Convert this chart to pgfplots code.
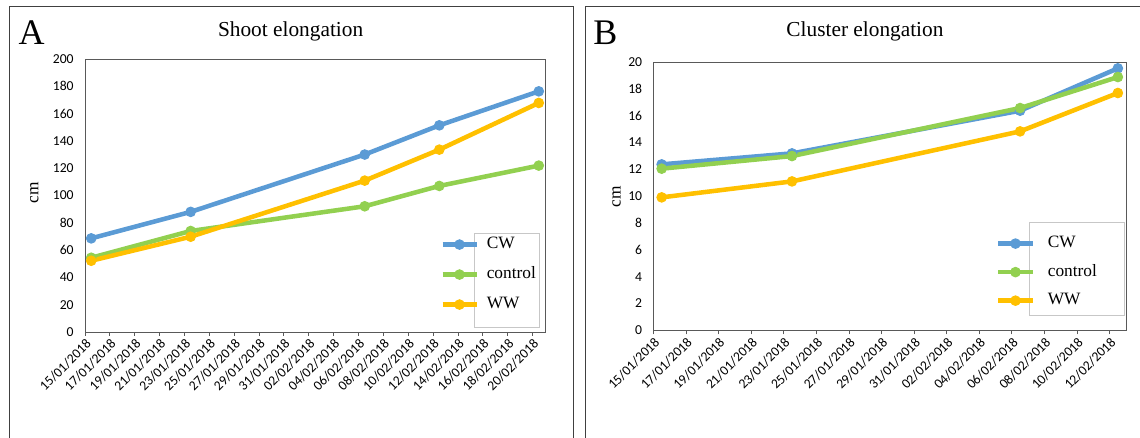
\documentclass[border=0pt]{standalone}
\usepackage{fontspec}
\setmainfont{Liberation Serif}
\newfontfamily\calib{Carlito}
\usepackage{pgfplots}
\pgfplotsset{compat=1.18}
\definecolor{cw}{HTML}{5B9BD5}
\definecolor{ctl}{HTML}{92D050}
\definecolor{ww}{HTML}{FFC000}
\definecolor{axgray}{HTML}{595959}
\definecolor{framec}{HTML}{404040}
\pgfplotsset{
  mystyle/.style={
    scale only axis, anchor=south west, clip=false,
    axis line style={axgray, line width=0.7pt},
    xtick pos=bottom, tick align=outside, major tick length=3pt,
    xtick style={axgray, line width=0.7pt},
    ytick style={draw=none},
    ticklabel style={font=\calib\fontsize{10.25}{12}\selectfont, text=black},
    /pgf/number format/assume math mode=true,
    x tick label style={rotate=45, anchor=north east, inner sep=1pt},
    y tick label style={xshift=-2pt},
    ymin=0,
    title style={font=\fontsize{16}{19}\selectfont, anchor=center},
    ylabel={cm},
    ylabel style={font=\fontsize{13}{15}\selectfont, anchor=center},
    every axis plot/.append style={line width=3.4pt, mark=*, mark size=3.6pt, mark options={solid, line width=0.75pt}},
    legend image code/.code={
      \draw[mark repeat=2,mark phase=2,##1] plot coordinates {(0pt,0pt) (12.75pt,0pt) (25.5pt,0pt)};
    },
    legend style={draw=none, fill=none, inner sep=0pt, anchor=north west,
      nodes={inner sep=0pt, text height=9pt, text depth=3pt, font=\fontsize{13}{15}\selectfont},
      legend cell align=left},
  }
}
\begin{document}
\begin{tikzpicture}[x=0.75pt,y=0.75pt]
\useasboundingbox (0,0) rectangle (1140,438);
\draw[framec, line width=0.75pt] (9,-2) -- (9,431) -- (573.3,431) -- (573.3,-2);
\draw[framec, line width=0.75pt] (585,-2) -- (585,431) -- (1142,431);
\node[font=\fontsize{27}{30}\selectfont, anchor=base] at (31.5,393) {A};
\node[font=\fontsize{27}{30}\selectfont, anchor=base] at (605.5,393) {B};

\begin{axis}[mystyle,
  at={(63.75pt,79.5pt)}, width=345pt, height=204.75pt,
  xmin=0, xmax=37, ymax=200, ytick={0,20,...,200},
  xtick={0,2,...,36},
  xticklabels={15/01/2018,17/01/2018,19/01/2018,21/01/2018,23/01/2018,25/01/2018,27/01/2018,29/01/2018,31/01/2018,02/02/2018,04/02/2018,06/02/2018,08/02/2018,10/02/2018,12/02/2018,14/02/2018,16/02/2018,18/02/2018,20/02/2018},
  title={Shoot elongation},
  title style={at={(axis description cs:0.447,1.073)}},
  ylabel style={at={(axis description cs:-0.1098,0.509)}},
  legend style={at={(axis description cs:0.7717,0.3505)}, row sep=10.5pt, column sep=6pt},
]
\addplot[cw] coordinates {(0.5,68.6) (8.5,88) (22.5,130) (28.5,151.4) (36.5,176.3)};
\addlegendentry{CW}
\addplot[ctl] coordinates {(0.5,54.4) (8.5,74) (22.5,92.1) (28.5,107) (36.5,121.9)};
\addlegendentry{control}
\addplot[ww] coordinates {(0.5,52.2) (8.5,69.8) (22.5,110.9) (28.5,133.6) (36.5,167.8)};
\addlegendentry{WW}
\draw[black!22, line width=0.75pt] (axis description cs:0.8457,0.3626) rectangle (axis description cs:0.9870,0.0183);
\end{axis}

\begin{axis}[mystyle,
  at={(490.125pt,80.775pt)}, width=354.375pt, height=201.2pt,
  xmin=0, xmax=29, ymax=20, ytick={0,2,...,20},
  xtick={0,2,...,28},
  xticklabels={15/01/2018,17/01/2018,19/01/2018,21/01/2018,23/01/2018,25/01/2018,27/01/2018,29/01/2018,31/01/2018,02/02/2018,04/02/2018,06/02/2018,08/02/2018,10/02/2018,12/02/2018},
  title={Cluster elongation},
  title style={at={(axis description cs:0.4476,1.086)}},
  ylabel style={at={(axis description cs:-0.0783,0.497)}},
  legend style={at={(axis description cs:0.7238,0.354)}, row sep=9.4pt, column sep=9.4pt},
  legend image code/.code={
      \draw[mark repeat=2,mark phase=2,#1] plot coordinates {(0pt,0pt) (13.1pt,0pt) (26.25pt,0pt)};
  },
]
\addplot[cw] coordinates {(0.5,12.37) (8.5,13.19) (22.5,16.37) (28.5,19.53)};
\addlegendentry{CW}
\addplot[ctl] coordinates {(0.5,12.05) (8.5,12.99) (22.5,16.57) (28.5,18.88)};
\addlegendentry{control}
\addplot[ww] coordinates {(0.5,9.91) (8.5,11.1) (22.5,14.83) (28.5,17.69)};
\addlegendentry{WW}
\draw[black!22, line width=0.75pt] (axis description cs:0.7968,0.4018) rectangle (axis description cs:0.9958,0.0533);
\end{axis}
\end{tikzpicture}
\end{document}
